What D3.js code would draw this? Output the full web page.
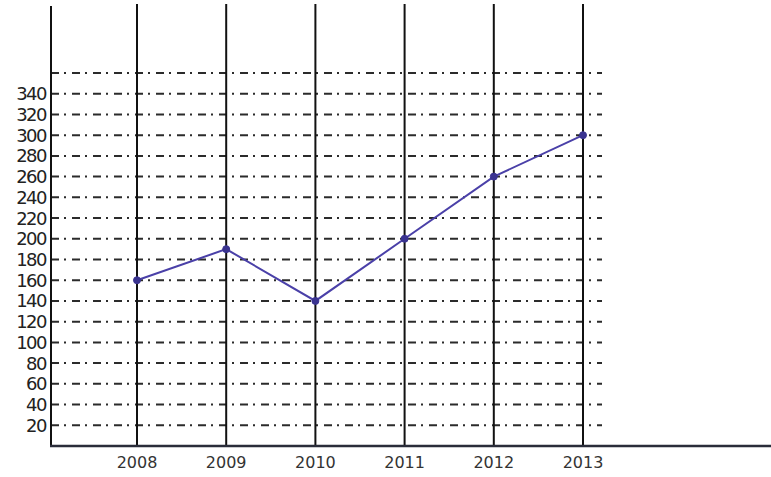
<!DOCTYPE html>
<html><head><meta charset="utf-8">
<script src="https://cdn.jsdelivr.net/npm/d3@7"></script>
<style>body{margin:0;background:#fff}svg{display:block}</style>
</head><body>
<svg id="c" width="771" height="477"></svg>
<script>
const years = ["2008","2009","2010","2011","2012","2013"];
const values = [160, 190, 140, 200, 260, 300];
const yTicks = [20,40,60,80,100,120,140,160,180,200,220,240,260,280,300,320,340];
const gridValues = [20,40,60,80,100,120,140,160,180,200,220,240,260,280,300,320,340,360];

const svg = d3.select("#c");
const x = d3.scalePoint().domain(years).range([137, 583]);
const y = d3.scaleLinear().domain([0, 360]).range([446, 73]);

// horizontal dash-dot grid
svg.append("g").selectAll("line").data(gridValues).join("line")
  .attr("x1", 51).attr("x2", 602)
  .attr("y1", d => y(d)).attr("y2", d => y(d))
  .attr("stroke", "#2b2b2b").attr("stroke-width", 2)
  .attr("stroke-dasharray", "8,5,2,6");

// vertical lines
svg.append("g").selectAll("line").data(years).join("line")
  .attr("x1", d => x(d)).attr("x2", d => x(d))
  .attr("y1", 4).attr("y2", y(0))
  .attr("stroke", "#111").attr("stroke-width", 2);

// y axis line
svg.append("line").attr("x1", 51).attr("x2", 51).attr("y1", 6).attr("y2", y(0))
  .attr("stroke", "#111").attr("stroke-width", 2);
// x axis line
svg.append("line").attr("x1", 50).attr("x2", 771).attr("y1", y(0)).attr("y2", y(0))
  .attr("stroke", "#2a2d3a").attr("stroke-width", 2.5);

// y labels
svg.append("g").selectAll("text").data(yTicks).join("text")
  .attr("x", 46).attr("y", d => y(d)).attr("dy", "0.36em")
  .attr("text-anchor", "end")
  .attr("font-family", "DejaVu Sans, sans-serif").attr("font-size", 18)
  .attr("letter-spacing", -1.5)
  .attr("fill", "#222").text(d => d);

// x labels
svg.append("g").selectAll("text").data(years).join("text")
  .attr("x", d => x(d)).attr("y", 468)
  .attr("text-anchor", "middle")
  .attr("font-family", "DejaVu Sans, sans-serif").attr("font-size", 16)
  .attr("fill", "#333").text(d => d);

// line
const line = d3.line().x((d, i) => x(years[i])).y(d => y(d));
svg.append("path").datum(values).attr("d", line)
  .attr("fill", "none").attr("stroke", "#4a40a8").attr("stroke-width", 2);
svg.append("g").selectAll("circle").data(values).join("circle")
  .attr("cx", (d, i) => x(years[i])).attr("cy", d => y(d)).attr("r", 3.5)
  .attr("fill", "#3a3390").attr("stroke", "#3a3390");
</script>
</body></html>
